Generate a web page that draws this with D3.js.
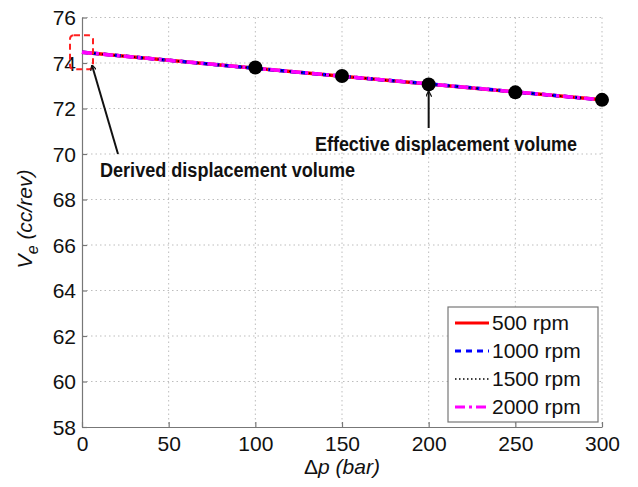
<!DOCTYPE html>
<html>
<head>
<meta charset="utf-8">
<script src="https://cdn.jsdelivr.net/npm/d3@7"></script>
<style>
  html, body { margin: 0; padding: 0; background: #fff; }
  svg { display: block; }
  text { font-family: "Liberation Sans", Arial, sans-serif; fill: #111; }
</style>
</head>
<body>
<svg id="chart" width="638" height="487"></svg>
<script>
// Pressure difference (bar) and fitted displacement volume for each speed
const pressure = [0, 50, 100, 150, 200, 250, 300];
const ve500  = [74.47, 74.12, 73.77, 73.42, 73.08, 72.73, 72.38];
const ve1000 = [74.47, 74.12, 73.77, 73.42, 73.08, 72.73, 72.38];
const ve1500 = [74.47, 74.12, 73.77, 73.42, 73.08, 72.73, 72.38];
const ve2000 = [74.47, 74.12, 73.77, 73.42, 73.08, 72.73, 72.38];

// Measured effective displacement volume
const measuredP  = [100, 150, 200, 250, 300];
const measuredVe = [73.80, 73.43, 73.06, 72.71, 72.38];

const xTicks = [0, 50, 100, 150, 200, 250, 300];
const yTicks = [58, 60, 62, 64, 66, 68, 70, 72, 74, 76];
const seriesNames = ["500 rpm", "1000 rpm", "1500 rpm", "2000 rpm"];

const svg = d3.select("#chart");
const plotLeft = 82, plotRight = 602, plotTop = 17.5, plotBottom = 427;

const x = d3.scaleLinear().domain([0, 300]).range([plotLeft, plotRight]);
const y = d3.scaleLinear().domain([58, 76]).range([plotBottom, plotTop]);

// Dotted grid
const grid = svg.append("g").attr("stroke", "#bdbdbd").attr("stroke-width", 1)
  .attr("stroke-dasharray", "1.5,3");
xTicks.slice(1).forEach(t => grid.append("line")
  .attr("x1", x(t)).attr("x2", x(t)).attr("y1", plotTop).attr("y2", plotBottom));
yTicks.slice(1).forEach(t => grid.append("line")
  .attr("x1", plotLeft).attr("x2", plotRight).attr("y1", y(t)).attr("y2", y(t)));

// Axes with inward ticks
const xAxis = svg.append("g").attr("transform", `translate(0,${plotBottom})`)
  .call(d3.axisBottom(x).tickValues(xTicks).tickSizeInner(-5).tickSizeOuter(0).tickPadding(9));
const yAxis = svg.append("g").attr("transform", `translate(${plotLeft},0)`)
  .call(d3.axisLeft(y).tickValues(yTicks).tickSizeInner(-5).tickSizeOuter(0).tickPadding(6));
[xAxis, yAxis].forEach(a => {
  a.select(".domain").attr("stroke", "#777").attr("stroke-width", 1.2);
  a.selectAll(".tick line").attr("stroke", "#777").attr("stroke-width", 1.2);
  a.selectAll(".tick text").attr("font-size", 21).attr("fill", "#111")
    .attr("font-family", "'Liberation Sans', Arial, sans-serif");
});
xAxis.selectAll(".tick text").attr("dy", "0.71em");
yAxis.selectAll(".tick text").attr("dy", "0.35em");

// Series lines
const line = d3.line().x((d, i) => x(pressure[i])).y(d => y(d));
const styles = [
  { data: ve500,  color: "#ff0000", width: 3.5, dash: null },
  { data: ve1000, color: "#0000ff", width: 3.5, dash: "6,5" },
  { data: ve1500, color: "#000000", width: 1.5, dash: "1.5,2.5" },
  { data: ve2000, color: "#ff00ff", width: 3.5, dash: "10,4,3,4" }
];
styles.forEach(s => svg.append("path").datum(s.data)
  .attr("d", line).attr("fill", "none").attr("stroke", s.color)
  .attr("stroke-width", s.width).attr("stroke-dasharray", s.dash));

// Measured points
svg.append("g").selectAll("circle").data(measuredP).join("circle")
  .attr("cx", d => x(d)).attr("cy", (d, i) => y(measuredVe[i])).attr("r", 7)
  .attr("fill", "#000");

// Highlight box around the intercept
svg.append("rect").attr("x", x(0) - 12).attr("y", y(74.47) - 17)
  .attr("width", 23).attr("height", 34).attr("rx", 4)
  .attr("fill", "none").attr("stroke", "#ff2020").attr("stroke-width", 2)
  .attr("stroke-dasharray", "6,4");

// Annotations with arrows
const defs = svg.append("defs");
defs.append("marker").attr("id", "arrow").attr("viewBox", "0 0 10 10")
  .attr("refX", 9).attr("refY", 5).attr("markerWidth", 6).attr("markerHeight", 6)
  .attr("markerUnits", "userSpaceOnUse").attr("orient", "auto")
  .append("path").attr("d", "M0,0 L10,5 L0,10").attr("fill", "none")
  .attr("stroke", "#111").attr("stroke-width", 2);

svg.append("line").attr("x1", 118).attr("y1", 154).attr("x2", x(0) + 10).attr("y2", y(74.47) + 13)
  .attr("stroke", "#111").attr("stroke-width", 2).attr("marker-end", "url(#arrow)");
svg.append("line").attr("x1", x(200)).attr("y1", 128).attr("x2", x(200)).attr("y2", y(73.06) + 7)
  .attr("stroke", "#111").attr("stroke-width", 2).attr("marker-end", "url(#arrow)");

const noteFont = "Lato, 'Open Sans', sans-serif";
svg.append("text").attr("x", 100).attr("y", 177)
  .attr("font-family", noteFont).attr("font-weight", "bold").attr("font-size", 20)
  .attr("textLength", 255).attr("lengthAdjust", "spacingAndGlyphs")
  .text("Derived displacement volume");
svg.append("text").attr("x", 315).attr("y", 151)
  .attr("font-family", noteFont).attr("font-weight", "bold").attr("font-size", 20)
  .attr("textLength", 262).attr("lengthAdjust", "spacingAndGlyphs")
  .text("Effective displacement volume");

// Axis titles
const xt = svg.append("text").attr("x", x(150)).attr("y", 474).attr("text-anchor", "middle")
  .attr("font-size", 21);
xt.append("tspan").text("Δ");
xt.append("tspan").attr("font-style", "italic").text("p (bar)");
const yt = svg.append("text").attr("transform", "translate(32,219) rotate(-90)")
  .attr("text-anchor", "middle").attr("font-size", 21);
yt.append("tspan").attr("font-style", "italic").text("V");
yt.append("tspan").attr("font-size", 16).attr("dy", 6).attr("font-style", "italic").text("e");
yt.append("tspan").attr("dy", -6).attr("font-style", "italic").text(" (cc/rev)");

// Legend
const lg = svg.append("g").attr("transform", "translate(448,307)");
lg.append("rect").attr("width", 150).attr("height", 115)
  .attr("fill", "#fff").attr("stroke", "#777").attr("stroke-width", 1.2);
seriesNames.forEach((name, i) => {
  const s = styles[i];
  const ly = 16 + i * 28;
  lg.append("line").attr("x1", 7).attr("x2", 41).attr("y1", ly).attr("y2", ly)
    .attr("stroke", s.color).attr("stroke-width", s.width === 1.5 ? 1.5 : 3)
    .attr("stroke-dasharray", s.dash);
  lg.append("text").attr("x", 44).attr("y", ly).attr("dy", "0.35em")
    .attr("font-size", 21).text(name);
});
</script>
</body>
</html>
